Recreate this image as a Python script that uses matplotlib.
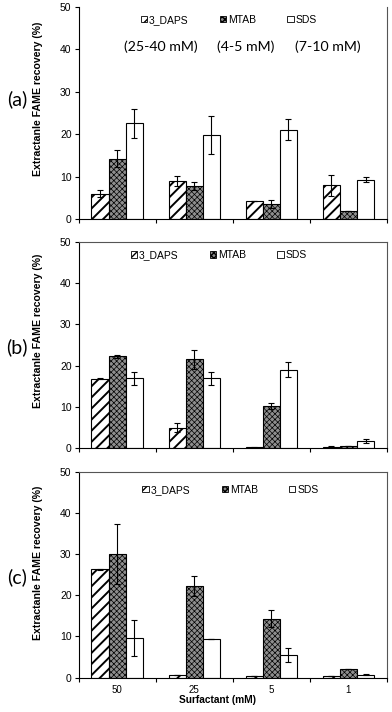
import numpy as np
import matplotlib.pyplot as plt
from matplotlib.patches import Patch

plt.rcParams['font.family'] = ['Liberation Sans', 'DejaVu Sans']

# categories / series
conc = ['50', '25', '5', '1']
series = ['3_DAPS', 'MTAB', 'SDS']

# panel (a)
a_daps = [6.0, 9.0, 4.2, 7.9]
a_daps_err = [0.9, 1.2, 0.0, 2.4]
a_mtab = [14.2, 7.8, 3.5, 1.8]
a_mtab_err = [2.0, 1.0, 1.0, 0.0]
a_sds = [22.5, 19.8, 21.0, 9.3]
a_sds_err = [3.4, 4.5, 2.5, 0.5]

# panel (b)
b_daps = [16.8, 5.0, 0.2, 0.4]
b_daps_err = [0.1, 1.0, 0.2, 0.1]
b_mtab = [22.3, 21.6, 10.2, 0.5]
b_mtab_err = [0.4, 2.3, 0.7, 0.0]
b_sds = [16.9, 16.9, 19.0, 1.7]
b_sds_err = [1.6, 1.6, 1.8, 0.45]

# panel (c)
c_daps = [26.3, 0.7, 0.3, 0.3]
c_daps_err = [0.1, 0.0, 0.0, 0.0]
c_mtab = [30.0, 22.3, 14.3, 2.1]
c_mtab_err = [7.2, 2.4, 2.1, 0.0]
c_sds = [9.6, 9.4, 5.5, 0.7]
c_sds_err = [4.3, 0.0, 1.6, 0.1]

cmc_labels = ['(25-40 mM)', '(4-5 mM)', '(7-10 mM)']

styles = [
    dict(facecolor='white', hatch='///', hlw=1.4),
    dict(facecolor='#8e8e8e', hatch='xxxxxx', hlw=0.5),
    dict(facecolor='white', hatch=None, hlw=0.5),
]

fig = plt.figure(figsize=(3.92, 7.12), dpi=100)

panels = [
    ('(a)', [0.2003, 0.6924, 0.787, 0.2982],
     [(a_daps, a_daps_err), (a_mtab, a_mtab_err), (a_sds, a_sds_err)],
     0.861, 0.860, (0.201, 46.9)),
    ('(b)', [0.2003, 0.3704, 0.787, 0.2901],
     [(b_daps, b_daps_err), (b_mtab, b_mtab_err), (b_sds, b_sds_err)],
     0.535, 0.513, (0.169, 46.8)),
    ('(c)', [0.2003, 0.0482, 0.787, 0.2893],
     [(c_daps, c_daps_err), (c_mtab, c_mtab_err), (c_sds, c_sds_err)],
     0.209, 0.190, (0.207, 45.6)),
]

x = np.arange(len(conc))
w = 0.222

for i, (lab, rect, data, ylab_y, lab_y, leg_pos) in enumerate(panels):
    ax = fig.add_axes(rect)
    for j, ((vals, errs), st) in enumerate(zip(data, styles)):
        with plt.rc_context({'hatch.linewidth': st['hlw']}):
            ax.bar(x + (j - 1) * w, vals, w, facecolor=st['facecolor'],
                   edgecolor='black', hatch=st['hatch'], linewidth=0.8)
        ax.errorbar(x + (j - 1) * w, vals, yerr=errs, fmt='none',
                    ecolor='black', elinewidth=0.8, capsize=2.2, capthick=0.8)

    ax.set_ylim(0, 50)
    ax.set_xlim(-0.5, 3.5)
    ax.set_yticks([0, 10, 20, 30, 40, 50])
    ax.tick_params(axis='y', direction='out', length=3, width=0.8,
                   labelsize=7.5, pad=2)
    ax.set_xticks([-0.5, 0.5, 1.5, 2.5, 3.5])
    ax.set_xticklabels([])
    ax.tick_params(axis='x', which='major', direction='out', length=3,
                   width=0.8)
    if i == 2:
        ax.set_xticks(x, minor=True)
        ax.set_xticklabels(conc, minor=True)
        ax.tick_params(axis='x', which='minor', length=0, labelsize=7,
                       pad=5)
    for s in ax.spines.values():
        s.set_linewidth(0.8)
    ax.spines['top'].set_color('#555555')
    ax.spines['right'].set_color('#555555')
    if i == 0:
        ax.spines['top'].set_visible(False)

    handles = []
    for st, name in zip(styles, series):
        with plt.rc_context({'hatch.linewidth': min(st['hlw'], 0.8)}):
            handles.append(Patch(facecolor=st['facecolor'], edgecolor='black',
                                 hatch=st['hatch'], linewidth=0.6, label=name))
    ax.legend(handles=handles, loc='center left',
              bbox_to_anchor=leg_pos, bbox_transform=ax.get_yaxis_transform(),
              ncol=3, frameon=False, fontsize=7.5, handlelength=0.6,
              handleheight=0.6, handletextpad=0.2, columnspacing=3.0,
              borderpad=0, borderaxespad=0)

    if i == 0:
        for xc, t in zip([0.267, 0.542, 0.809], cmc_labels):
            ax.text(xc, 40.6, t, transform=ax.get_yaxis_transform(),
                    ha='center', va='center', fontsize=10.2,
                    family=['Lato', 'DejaVu Sans'])

    fig.text(0.098, ylab_y, 'Extractanle FAME recovery (%)', rotation=90,
             ha='center', va='center', fontsize=7.6, fontweight='bold')
    fig.text(0.043, lab_y, lab, ha='center', va='center', fontsize=14,
             family=['Lato', 'DejaVu Sans'])

fig.text(0.555, 0.0165, 'Surfactant (mM)', ha='center', va='center',
         fontsize=7.3, fontweight='bold')

fig.savefig('out.png', dpi=100)
